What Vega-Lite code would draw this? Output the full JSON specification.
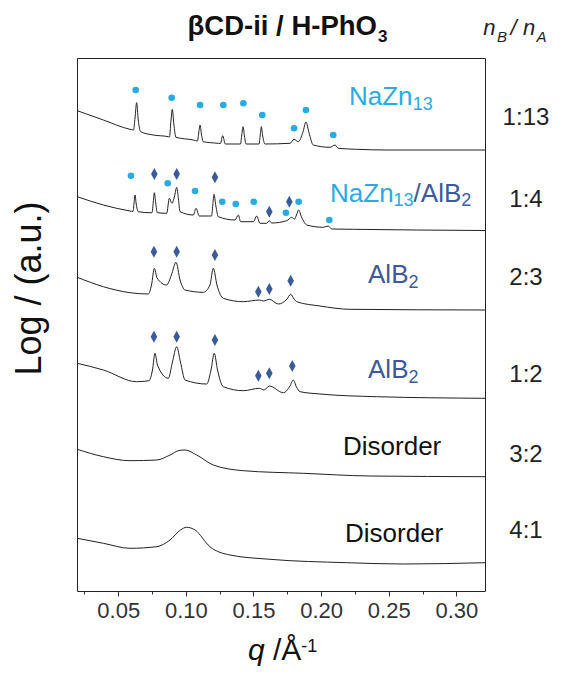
{
  "$schema": "https://vega.github.io/schema/vega-lite/v6.json",
  "width": 408,
  "height": 533,
  "autosize": {"type": "none"},
  "padding": {"left": 77, "top": 58, "right": 78, "bottom": 82},
  "background": "white",
  "config": {
    "view": {"stroke": "#222", "strokeWidth": 1},
    "text": {"font": "Liberation Sans"},
    "axis": {"labelFont": "Liberation Sans", "titleFont": "Liberation Sans"}
  },
  "encoding": {
    "x": {
      "field": "q", "type": "quantitative",
      "scale": {"domain": [0.0195, 0.3212], "nice": false, "zero": false},
      "axis": {
        "values": [0.025, 0.05, 0.075, 0.1, 0.125, 0.15, 0.175, 0.2, 0.225, 0.25, 0.275, 0.3],
        "labelExpr": "abs(datum.value*20-round(datum.value*20))<0.001 ? format(datum.value,'.2f') : ''",
        "tickSize": {"condition": {"test": "abs(datum.value*20-round(datum.value*20))<0.001", "value": 5}, "value": 3},
        "title": null, "grid": false, "domain": false, "tickColor": "#333",
        "labelFont": "Liberation Sans", "labelFontSize": 22, "labelColor": "#333", "labelPadding": 4,
        "labelFlush": false, "labelOverlap": false
      }
    },
    "y": {
      "field": "v", "type": "quantitative",
      "scale": {"domain": [0, 533], "nice": false, "zero": false},
      "axis": {
        "title": "Log / (a.u.)", "ticks": false, "labels": false, "domain": false, "grid": false,
        "titleFontSize": 36, "titleFontWeight": "normal", "titleColor": "#111",
        "titleAngle": -90, "titleAlign": "left", "titleBaseline": "alphabetic",
        "titleX": -37, "titleY": 317
      }
    }
  },
  "layer": [
    {
      "data": {"values": [
        {"ratio":"1:13","q":0.0197,"v":480.3},{"ratio":"1:13","q":0.0390,"v":471},{"ratio":"1:13","q":0.0587,"v":461.7},{"ratio":"1:13","q":0.0613,"v":461},{"ratio":"1:13","q":0.0624,"v":473},{"ratio":"1:13","q":0.0636,"v":488.3},{"ratio":"1:13","q":0.0648,"v":471},{"ratio":"1:13","q":0.0666,"v":459.3},{"ratio":"1:13","q":0.0759,"v":456},{"ratio":"1:13","q":0.0870,"v":454.3},{"ratio":"1:13","q":0.0879,"v":454},{"ratio":"1:13","q":0.0889,"v":469},{"ratio":"1:13","q":0.0900,"v":481.7},{"ratio":"1:13","q":0.0911,"v":467},{"ratio":"1:13","q":0.0927,"v":453.7},{"ratio":"1:13","q":0.1055,"v":451},{"ratio":"1:13","q":0.1086,"v":450},{"ratio":"1:13","q":0.1095,"v":458},{"ratio":"1:13","q":0.1105,"v":466},{"ratio":"1:13","q":0.1115,"v":457},{"ratio":"1:13","q":0.1129,"v":449.3},{"ratio":"1:13","q":0.1240,"v":447.7},{"ratio":"1:13","q":0.1256,"v":447.5},{"ratio":"1:13","q":0.1272,"v":455.3},{"ratio":"1:13","q":0.1292,"v":447},{"ratio":"1:13","q":0.1388,"v":447},{"ratio":"1:13","q":0.1404,"v":447},{"ratio":"1:13","q":0.1413,"v":456},{"ratio":"1:13","q":0.1423,"v":464.3},{"ratio":"1:13","q":0.1433,"v":455},{"ratio":"1:13","q":0.1445,"v":447},{"ratio":"1:13","q":0.1528,"v":447},{"ratio":"1:13","q":0.1541,"v":447},{"ratio":"1:13","q":0.1550,"v":456},{"ratio":"1:13","q":0.1558,"v":464.3},{"ratio":"1:13","q":0.1568,"v":455},{"ratio":"1:13","q":0.1585,"v":447},{"ratio":"1:13","q":0.1770,"v":447.7},{"ratio":"1:13","q":0.1800,"v":451.7},{"ratio":"1:13","q":0.1831,"v":449.3},{"ratio":"1:13","q":0.1866,"v":459},{"ratio":"1:13","q":0.1888,"v":469},{"ratio":"1:13","q":0.1911,"v":458},{"ratio":"1:13","q":0.1942,"v":446},{"ratio":"1:13","q":0.2066,"v":443.7},{"ratio":"1:13","q":0.2103,"v":446},{"ratio":"1:13","q":0.2127,"v":442.7},{"ratio":"1:13","q":0.2263,"v":441.7},{"ratio":"1:13","q":0.2487,"v":441},{"ratio":"1:13","q":0.3212,"v":441},
        {"ratio":"1:4","q":0.0197,"v":394.3},{"ratio":"1:4","q":0.0390,"v":386},{"ratio":"1:4","q":0.0587,"v":380},{"ratio":"1:4","q":0.0609,"v":379.5},{"ratio":"1:4","q":0.0617,"v":388},{"ratio":"1:4","q":0.0624,"v":396},{"ratio":"1:4","q":0.0633,"v":387},{"ratio":"1:4","q":0.0648,"v":379.3},{"ratio":"1:4","q":0.0735,"v":378.3},{"ratio":"1:4","q":0.0750,"v":378.3},{"ratio":"1:4","q":0.0759,"v":389},{"ratio":"1:4","q":0.0767,"v":398.3},{"ratio":"1:4","q":0.0777,"v":388},{"ratio":"1:4","q":0.0789,"v":378.3},{"ratio":"1:4","q":0.0858,"v":377.7},{"ratio":"1:4","q":0.0878,"v":392.7},{"ratio":"1:4","q":0.0897,"v":387.7},{"ratio":"1:4","q":0.0915,"v":394},{"ratio":"1:4","q":0.0932,"v":403.7},{"ratio":"1:4","q":0.0945,"v":392},{"ratio":"1:4","q":0.0957,"v":379.3},{"ratio":"1:4","q":0.1055,"v":376},{"ratio":"1:4","q":0.1075,"v":382.7},{"ratio":"1:4","q":0.1099,"v":375},{"ratio":"1:4","q":0.1178,"v":375},{"ratio":"1:4","q":0.1190,"v":375},{"ratio":"1:4","q":0.1199,"v":386},{"ratio":"1:4","q":0.1208,"v":396.7},{"ratio":"1:4","q":0.1222,"v":385},{"ratio":"1:4","q":0.1240,"v":374.3},{"ratio":"1:4","q":0.1363,"v":371},{"ratio":"1:4","q":0.1388,"v":376},{"ratio":"1:4","q":0.1405,"v":369.3},{"ratio":"1:4","q":0.1499,"v":369.3},{"ratio":"1:4","q":0.1524,"v":375},{"ratio":"1:4","q":0.1548,"v":367.7},{"ratio":"1:4","q":0.1598,"v":367.7},{"ratio":"1:4","q":0.1617,"v":370.3},{"ratio":"1:4","q":0.1635,"v":368},{"ratio":"1:4","q":0.1746,"v":370.3},{"ratio":"1:4","q":0.1783,"v":373.7},{"ratio":"1:4","q":0.1802,"v":371.7},{"ratio":"1:4","q":0.1818,"v":376},{"ratio":"1:4","q":0.1834,"v":381},{"ratio":"1:4","q":0.1855,"v":374},{"ratio":"1:4","q":0.1894,"v":366},{"ratio":"1:4","q":0.2016,"v":363.7},{"ratio":"1:4","q":0.2053,"v":365},{"ratio":"1:4","q":0.2078,"v":362},{"ratio":"1:4","q":0.2238,"v":361.7},{"ratio":"1:4","q":0.2707,"v":361},{"ratio":"1:4","q":0.3212,"v":360.5},
        {"ratio":"2:3","q":0.0197,"v":313.7},{"ratio":"2:3","q":0.0390,"v":304.3},{"ratio":"2:3","q":0.0587,"v":298.3},{"ratio":"2:3","q":0.0722,"v":297},{"ratio":"2:3","q":0.0746,"v":306},{"ratio":"2:3","q":0.0767,"v":322.7},{"ratio":"2:3","q":0.0787,"v":313},{"ratio":"2:3","q":0.0858,"v":306},{"ratio":"2:3","q":0.0893,"v":316},{"ratio":"2:3","q":0.0927,"v":328.7},{"ratio":"2:3","q":0.0957,"v":311},{"ratio":"2:3","q":0.0994,"v":301},{"ratio":"2:3","q":0.1129,"v":298.7},{"ratio":"2:3","q":0.1178,"v":306},{"ratio":"2:3","q":0.1203,"v":322.7},{"ratio":"2:3","q":0.1230,"v":306},{"ratio":"2:3","q":0.1277,"v":292.7},{"ratio":"2:3","q":0.1425,"v":289.3},{"ratio":"2:3","q":0.1543,"v":291},{"ratio":"2:3","q":0.1574,"v":290},{"ratio":"2:3","q":0.1617,"v":291.7},{"ratio":"2:3","q":0.1684,"v":287},{"ratio":"2:3","q":0.1748,"v":292},{"ratio":"2:3","q":0.1775,"v":296.7},{"ratio":"2:3","q":0.1800,"v":292},{"ratio":"2:3","q":0.1820,"v":289.3},{"ratio":"2:3","q":0.1992,"v":285},{"ratio":"2:3","q":0.2214,"v":281.7},{"ratio":"2:3","q":0.3212,"v":281},
        {"ratio":"1:2","q":0.0197,"v":227.7},{"ratio":"1:2","q":0.0390,"v":221},{"ratio":"1:2","q":0.0636,"v":209.3},{"ratio":"1:2","q":0.0727,"v":210.3},{"ratio":"1:2","q":0.0753,"v":221},{"ratio":"1:2","q":0.0772,"v":237.7},{"ratio":"1:2","q":0.0790,"v":226},{"ratio":"1:2","q":0.0870,"v":212.7},{"ratio":"1:2","q":0.0901,"v":229},{"ratio":"1:2","q":0.0932,"v":244.3},{"ratio":"1:2","q":0.0960,"v":229},{"ratio":"1:2","q":0.0994,"v":211},{"ratio":"1:2","q":0.1154,"v":207},{"ratio":"1:2","q":0.1186,"v":221},{"ratio":"1:2","q":0.1210,"v":237.7},{"ratio":"1:2","q":0.1234,"v":221},{"ratio":"1:2","q":0.1277,"v":204.3},{"ratio":"1:2","q":0.1425,"v":200.3},{"ratio":"1:2","q":0.1543,"v":202.7},{"ratio":"1:2","q":0.1578,"v":201},{"ratio":"1:2","q":0.1617,"v":205},{"ratio":"1:2","q":0.1721,"v":198.3},{"ratio":"1:2","q":0.1770,"v":205},{"ratio":"1:2","q":0.1794,"v":211},{"ratio":"1:2","q":0.1818,"v":204},{"ratio":"1:2","q":0.1844,"v":199.3},{"ratio":"1:2","q":0.1992,"v":197},{"ratio":"1:2","q":0.2411,"v":194.3},{"ratio":"1:2","q":0.3212,"v":192.7},
        {"ratio":"3:2","q":0.0197,"v":141.7},{"ratio":"3:2","q":0.0390,"v":134.3},{"ratio":"3:2","q":0.0587,"v":130.3},{"ratio":"3:2","q":0.0784,"v":131},{"ratio":"3:2","q":0.0883,"v":136},{"ratio":"3:2","q":0.0950,"v":140.5},{"ratio":"3:2","q":0.0994,"v":141},{"ratio":"3:2","q":0.1080,"v":136},{"ratio":"3:2","q":0.1203,"v":126},{"ratio":"3:2","q":0.1425,"v":120.3},{"ratio":"3:2","q":0.1868,"v":117.7},{"ratio":"3:2","q":0.2362,"v":115},{"ratio":"3:2","q":0.3212,"v":114.3},
        {"ratio":"4:1","q":0.0197,"v":52.7},{"ratio":"4:1","q":0.0390,"v":47.7},{"ratio":"4:1","q":0.0587,"v":42.7},{"ratio":"4:1","q":0.0784,"v":44.3},{"ratio":"4:1","q":0.0883,"v":51},{"ratio":"4:1","q":0.0960,"v":61},{"ratio":"4:1","q":0.1006,"v":63.7},{"ratio":"4:1","q":0.1068,"v":61},{"ratio":"4:1","q":0.1178,"v":44.3},{"ratio":"4:1","q":0.1326,"v":36},{"ratio":"4:1","q":0.1622,"v":31.7},{"ratio":"4:1","q":0.2189,"v":28.3},{"ratio":"4:1","q":0.2608,"v":27},{"ratio":"4:1","q":0.3212,"v":28.3}
      ]},
      "mark": {"type": "line", "interpolate": "monotone", "color": "#222", "strokeWidth": 1},
      "encoding": {"detail": {"field": "ratio"}}
    },
    {
      "data": {"values": [
        {"ratio":"1:13","q":0.0629,"v":501},{"ratio":"1:13","q":0.0895,"v":493.3},{"ratio":"1:13","q":0.1105,"v":486},{"ratio":"1:13","q":0.1277,"v":486},{"ratio":"1:13","q":0.1425,"v":487.7},{"ratio":"1:13","q":0.1565,"v":476},{"ratio":"1:13","q":0.1800,"v":462.7},{"ratio":"1:13","q":0.1888,"v":481},{"ratio":"1:13","q":0.2090,"v":456},
        {"ratio":"1:4","q":0.0594,"v":415.3},{"ratio":"1:4","q":0.0866,"v":407.7},{"ratio":"1:4","q":0.1068,"v":400},{"ratio":"1:4","q":0.1269,"v":389.3},{"ratio":"1:4","q":0.1369,"v":387},{"ratio":"1:4","q":0.1502,"v":389.3},{"ratio":"1:4","q":0.1740,"v":378.3},{"ratio":"1:4","q":0.1834,"v":389.3},{"ratio":"1:4","q":0.2061,"v":371}
      ]},
      "mark": {"type": "point", "shape": "circle", "filled": true, "size": 44, "color": "#29ABE2", "opacity": 1}
    },
    {
      "data": {"values": [
        {"ratio":"1:4","q":0.0767,"v":417},{"ratio":"1:4","q":0.0932,"v":417},{"ratio":"1:4","q":0.1215,"v":413.7},{"ratio":"1:4","q":0.1617,"v":379.3},{"ratio":"1:4","q":0.1765,"v":389.3},
        {"ratio":"2:3","q":0.0764,"v":339.3},{"ratio":"2:3","q":0.0932,"v":339.3},{"ratio":"2:3","q":0.1215,"v":336},{"ratio":"2:3","q":0.1536,"v":299.3},{"ratio":"2:3","q":0.1617,"v":302},{"ratio":"2:3","q":0.1775,"v":310.3},
        {"ratio":"1:2","q":0.0764,"v":254.3},{"ratio":"1:2","q":0.0932,"v":254.3},{"ratio":"1:2","q":0.1215,"v":251},{"ratio":"1:2","q":0.1536,"v":215.3},{"ratio":"1:2","q":0.1617,"v":217.7},{"ratio":"1:2","q":0.1787,"v":225}
      ]},
      "mark": {"type": "point", "shape": "M0,-1L0.55,0L0,1L-0.55,0Z", "filled": true, "size": 144, "color": "#3B5A9A", "opacity": 1}
    },
    {
      "data": {"values": [
        {"t":"NaZn","phase":"NaZn13","q":0.2206,"v":486},
        {"t":"NaZn","phase":"NaZn13","q":0.2066,"v":389.3},
        {"t":"/AlB","phase":"AlB2","q":0.2684,"v":389.3},
        {"t":"AlB","phase":"AlB2","q":0.2347,"v":307.7},
        {"t":"AlB","phase":"AlB2","q":0.2347,"v":212.7},
        {"t":"Disorder","phase":"Disorder","q":0.2162,"v":136},
        {"t":"Disorder","phase":"Disorder","q":0.2177,"v":49.3}
      ]},
      "mark": {"type": "text", "fontSize": 26, "align": "left", "baseline": "alphabetic"},
      "encoding": {
        "text": {"field": "t"},
        "color": {"field": "phase", "type": "nominal", "legend": null,
          "scale": {"domain": ["NaZn13", "AlB2", "Disorder"], "range": ["#29ABE2", "#3B5A9A", "#111111"]}}
      }
    },
    {
      "data": {"values": [
        {"t":"13","phase":"NaZn13","q":0.2677,"v":481.5},
        {"t":"13","phase":"NaZn13","q":0.2536,"v":384.8},
        {"t":"2","phase":"AlB2","q":0.3037,"v":384.8},
        {"t":"2","phase":"AlB2","q":0.2646,"v":303.2},
        {"t":"2","phase":"AlB2","q":0.2646,"v":208.2}
      ]},
      "mark": {"type": "text", "fontSize": 18, "align": "left", "baseline": "alphabetic"},
      "encoding": {
        "text": {"field": "t"},
        "color": {"field": "phase", "type": "nominal", "legend": null,
          "scale": {"domain": ["NaZn13", "AlB2", "Disorder"], "range": ["#29ABE2", "#3B5A9A", "#111111"]}}
      }
    },
    {
      "data": {"values": [
        {"t":"1:13","q":0.3515,"v":466},
        {"t":"1:4","q":0.3515,"v":384.3},
        {"t":"2:3","q":0.3515,"v":306},
        {"t":"1:2","q":0.3515,"v":209.3},
        {"t":"3:2","q":0.3515,"v":129.3},
        {"t":"4:1","q":0.3515,"v":52.7}
      ]},
      "mark": {"type": "text", "fontSize": 24, "align": "center", "baseline": "alphabetic", "color": "#222"},
      "encoding": {"text": {"field": "t"}}
    },
    {
      "data": {"values": [
        {"t":"n","q":0.3199,"v":556},
        {"t":"/","q":0.3401,"v":556},
        {"t":"n","q":0.3493,"v":556}
      ]},
      "mark": {"type": "text", "fontSize": 22, "fontStyle": "italic", "align": "left", "baseline": "alphabetic", "color": "#222"},
      "encoding": {"text": {"field": "t"}}
    },
    {
      "data": {"values": [
        {"t":"B","q":0.3301,"v":549.3},
        {"t":"A","q":0.3593,"v":549.3}
      ]},
      "mark": {"type": "text", "fontSize": 15, "fontStyle": "italic", "align": "left", "baseline": "alphabetic", "color": "#222"},
      "encoding": {"text": {"field": "t"}}
    },
    {
      "data": {"values": [{"t":"βCD-ii / H-PhO","q":0.2413,"v":556}]},
      "mark": {"type": "text", "fontSize": 27.5, "fontWeight": "bold", "align": "right", "baseline": "alphabetic", "color": "#111"},
      "encoding": {"text": {"field": "t"}}
    },
    {
      "data": {"values": [{"t":"3","q":0.2421,"v":549.3}]},
      "mark": {"type": "text", "fontSize": 17, "fontWeight": "bold", "align": "left", "baseline": "alphabetic", "color": "#111"},
      "encoding": {"text": {"field": "t"}}
    },
    {
      "data": {"values": [{"t":"q","q":0.1459,"v":-69}]},
      "mark": {"type": "text", "fontSize": 30, "fontStyle": "italic", "align": "left", "baseline": "alphabetic", "color": "#111"},
      "encoding": {"text": {"field": "t"}}
    },
    {
      "data": {"values": [{"t":"/Å","q":0.1644,"v":-69}]},
      "mark": {"type": "text", "fontSize": 30, "align": "left", "baseline": "alphabetic", "color": "#111"},
      "encoding": {"text": {"field": "t"}}
    },
    {
      "data": {"values": [{"t":"-1","q":0.1854,"v":-60.7}]},
      "mark": {"type": "text", "fontSize": 18, "align": "left", "baseline": "alphabetic", "color": "#111"},
      "encoding": {"text": {"field": "t"}}
    }
  ]
}
